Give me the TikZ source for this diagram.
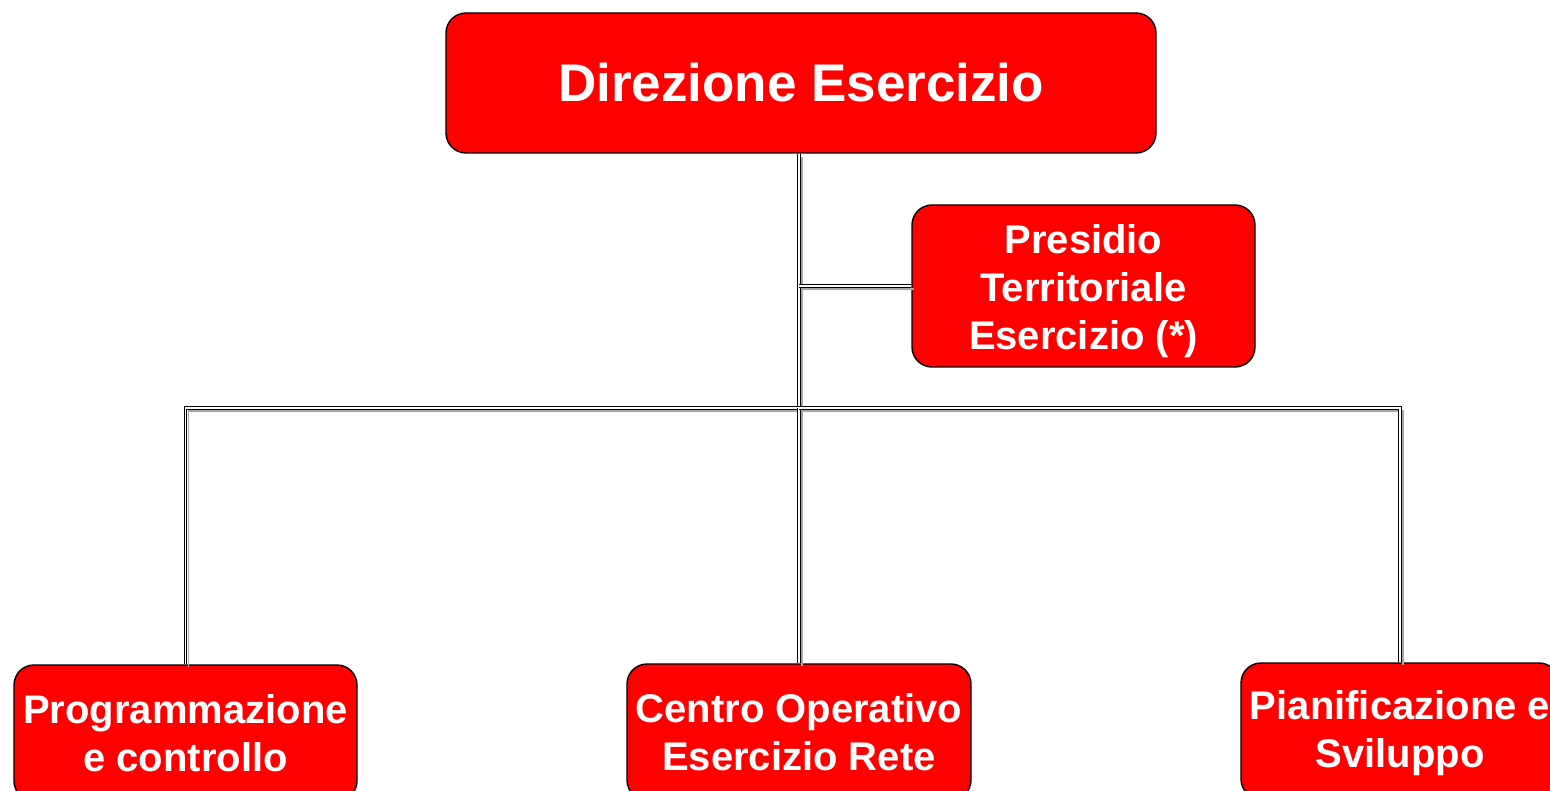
\documentclass[tikz,border=0pt]{standalone}
\usepackage{fontspec}
\setmainfont{Liberation Sans}
\usepackage{xcolor}
\usepackage{tikz}
\usetikzlibrary{positioning}

\definecolor{boxred}{RGB}{255,0,0}
\tikzset{
  unit/.style={draw=black, line width=1.4pt, fill=boxred, rounded corners=20pt,
    text=white, font=\bfseries\fontsize{40}{48}\selectfont, align=center,
    inner sep=4pt},
  link/.style={draw=black, line width=0.8pt, double=white, double distance=1.6pt},
  linkshade/.style={draw=gray!70, line width=1.5pt}
}
% the connector paths, drawn once as shade and once as link
\newcommand{\orglinks}[1]{%
  \draw[#1] (dir.south -| bus) -- (bus);
  \draw[#1] (bus |- pres.west) -- (pres.west);
  \draw[#1] (bus) -- (bus -| prog.north) -- (prog.north);
  \draw[#1] (bus) -- (coer.north -| bus);
  \draw[#1] (bus) -- (bus -| pian.north) -- (pian.north);
}

\begin{document}
\begin{tikzpicture}[x=1pt, y=-1pt]
\useasboundingbox (0,0) rectangle (1550,791);
% units
\node[unit, minimum width=710pt, minimum height=140pt,
  font=\bfseries\fontsize{53}{60}\selectfont] (dir) at (801,83) {Direzione Esercizio};
\node[unit, minimum width=343pt, minimum height=162pt] (pres) at (1083.5,286)
  {\rule{0pt}{40pt}Presidio\\Territoriale\\Esercizio (*)};
\node[unit, minimum width=343pt, minimum height=136pt] (prog) at (185.5,733)
  {Programmazione\\e controllo};
\node[unit, minimum width=344pt, minimum height=136pt] (coer) at (799,732)
  {Centro Operativo\\Esercizio Rete};
\node[unit, minimum width=318pt, minimum height=136pt] (pian) at (1400,731)
  {\rule{0pt}{33pt}Pianificazione e\\Sviluppo};
% links
\coordinate (bus) at (799,408);
\begin{scope}[transform canvas={xshift=3pt, yshift=-3pt}]
\orglinks{linkshade}
\end{scope}
\orglinks{link}
\end{tikzpicture}
\end{document}
